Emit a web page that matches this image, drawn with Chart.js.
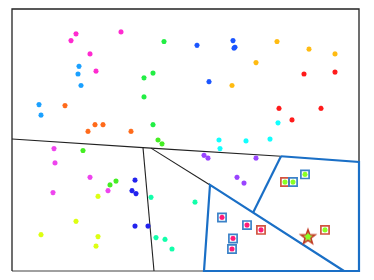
<!DOCTYPE html>
<html>
<head>
<meta charset="utf-8">
<script src="https://cdn.jsdelivr.net/npm/chart.js@4.4.0/dist/chart.umd.min.js"></script>
<style>
html, body { margin: 0; padding: 0; background: #fff; }
#wrap { width: 374px; height: 280px; }
</style>
</head>
<body>
<div id="wrap"><canvas id="chart"></canvas></div>
<script>
// clusters, in picture units (x to the right, y downwards)
var magenta = [[76,29],[71,36],[121,27],[90,50],[96,68]];
var greenA = [[164,37],[153,70],[144,75],[144,95],[153,124]];
var greenB = [[158,140],[162,144],[83,151],[110,187],[116,183]];
var skyBlue = [[79,63],[78,71],[81,83],[39,103],[41,114]];
var orange = [[65,104],[95,124],[103,124],[88,131],[131,131]];
var royal = [[197,41],[233,36],[235,43],[234,44],[209,79]];
var gold = [[277,37],[309,45],[335,50],[256,59],[232,83]];
var red = [[304,71],[335,69],[279,107],[321,107],[292,119]];
var cyan = [[278,122],[219,140],[246,141],[270,139],[220,149]];
var violet = [[54,149],[55,164],[90,179],[108,193],[53,195]];
var blue = [[135,182],[132,193],[136,196],[135,230],[148,230]];
var yellow = [[98,199],[76,225],[41,239],[98,241],[96,251]];
var spring = [[151,200],[156,242],[165,244],[172,254],[195,205]];
var purple = [[204,156],[208,159],[256,159],[237,179],[244,185]];
var crimson = [[222,221],[247,229],[233,243],[232,254],[261,234]];
var lime = [[305,176],[293,184],[285,184],[325,234],[308,241]];

var blueBoxes = [[222,221],[247,229],[233,243],[232,254],[305,176],[293,184]];
var redBoxes = [[261,234],[285,184],[325,234]];
var bigStar = [[308,241]];

// partition lines
var frame = [[12,277],[12,3],[359,3],[359,163]];
var frameBottom = [[12,277],[204,277]];
var blackLines = [
  [[12,139],[143,148],[151,148.5],[281,157]],
  [[151,148.5],[210,187]],
  [[143,148],[154,277]]
];
var blueLines = [
  [[281,157],[359,163],[359,277],[204,277],[210,187],[344,277]],
  [[281,157],[253,216]]
];

function xy(arr) {
  return arr.map(function (p) { return { x: p[0], y: p[1] }; });
}

function starImage() {
  var c = document.createElement('canvas');
  c.width = 20; c.height = 20;
  var g = c.getContext('2d');
  g.beginPath();
  for (var i = 0; i < 10; i++) {
    var r = i % 2 === 0 ? 7.6 : 3.1;
    var a = -Math.PI / 2 + i * Math.PI / 5;
    var px = 10 + r * Math.cos(a), py = 10.5 + r * Math.sin(a);
    if (i === 0) g.moveTo(px, py); else g.lineTo(px, py);
  }
  g.closePath();
  g.fillStyle = '#a3e04c';
  g.fill();
  g.strokeStyle = '#c23a22';
  g.lineWidth = 1.5;
  g.stroke();
  return c;
}

var groups = [
  [magenta, '#ff2ad0'], [greenA, '#22ee44'], [greenB, '#44ee22'],
  [skyBlue, '#1aa0ff'], [orange, '#ff6a1a'], [royal, '#1a55ff'],
  [gold, '#ffbb11'], [red, '#ff1a1a'], [cyan, '#11ffff'],
  [violet, '#ee44ee'], [blue, '#2222ee'], [yellow, '#ddff11'],
  [spring, '#11ffaa'], [purple, '#9944ff'], [crimson, '#ff1a77'],
  [lime, '#88ff22']
];

var datasets = [];

blueBoxes.length && datasets.push({
  data: xy(blueBoxes), pointStyle: 'rect', radius: 5.8, borderWidth: 1.7,
  borderColor: '#3b82c8', backgroundColor: 'rgba(0,0,0,0)', order: 0
});
datasets.push({
  data: xy(redBoxes), pointStyle: 'rect', radius: 5.8, borderWidth: 1.7,
  borderColor: '#d2533f', backgroundColor: 'rgba(0,0,0,0)', order: 0
});

groups.forEach(function (g) {
  datasets.push({
    data: xy(g[0]), pointStyle: 'star', radius: 2.6, borderWidth: 1.5,
    borderColor: g[1], backgroundColor: g[1], order: 1
  });
});

datasets.push({
  data: xy(bigStar), pointStyle: starImage(), radius: 8, order: 2
});

function lineSet(pts, color, width) {
  return {
    data: xy(pts), showLine: true, borderColor: color, borderWidth: width,
    pointRadius: 0, fill: false, clip: false, order: 3
  };
}

blueLines.forEach(function (l) { datasets.push(lineSet(l, '#1a6fc6', 2.2)); });
blackLines.forEach(function (l) { datasets.push(lineSet(l, '#222222', 1.1)); });
datasets.push(lineSet(frame, '#222222', 1.3));
datasets.push(lineSet(frameBottom, '#808080', 1.6));

new Chart(document.getElementById('chart'), {
  type: 'scatter',
  data: { datasets: datasets },
  options: {
    responsive: true,
    maintainAspectRatio: false,
    animation: false,
    layout: { padding: { left: 12, right: 15, top: 3, bottom: 3 } },
    plugins: { legend: { display: false }, tooltip: { enabled: false } },
    scales: {
      x: { type: 'linear', min: 12, max: 359, display: false },
      y: { type: 'linear', min: 3, max: 277, reverse: true, display: false }
    }
  }
});
</script>
</body>
</html>
